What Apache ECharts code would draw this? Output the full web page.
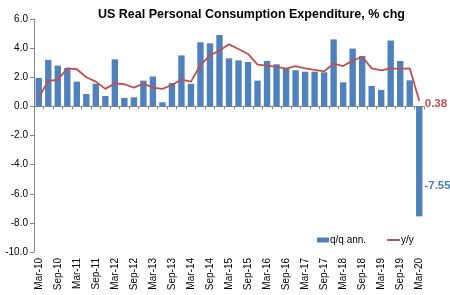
<!DOCTYPE html>
<html><head><meta charset="utf-8">
<script src="https://cdn.jsdelivr.net/npm/echarts@6/dist/echarts.min.js"></script>
<style>html,body{margin:0;padding:0;background:#fff}#c{width:450px;height:295px}</style>
</head><body><div id="c"></div>
<script>
const categories = ["Mar-10","Jun-10","Sep-10","Dec-10","Mar-11","Jun-11","Sep-11","Dec-11","Mar-12","Jun-12","Sep-12","Dec-12","Mar-13","Jun-13","Sep-13","Dec-13","Mar-14","Jun-14","Sep-14","Dec-14","Mar-15","Jun-15","Sep-15","Dec-15","Mar-16","Jun-16","Sep-16","Dec-16","Mar-17","Jun-17","Sep-17","Dec-17","Mar-18","Jun-18","Sep-18","Dec-18","Mar-19","Jun-19","Sep-19","Dec-19","Mar-20"];
const qoqAnn = [1.95,3.19,2.8,2.64,1.7,0.85,1.56,0.71,3.23,0.58,0.62,1.77,2.05,0.28,1.6,3.5,1.55,4.4,4.33,4.9,3.3,3.16,3.05,1.77,3.12,2.89,2.59,2.48,2.38,2.38,2.34,4.6,1.65,3.97,3.46,1.4,1.13,4.52,3.12,1.79,-7.55];
const yoy = [0.58,1.77,1.81,2.61,2.55,2.0,1.7,1.2,1.58,1.52,1.29,1.56,1.29,1.2,1.47,1.84,1.7,2.84,3.51,3.83,4.26,3.94,3.6,2.87,2.8,2.71,2.59,2.77,2.61,2.5,2.41,2.93,2.77,3.14,3.41,2.61,2.48,2.61,2.57,2.61,0.38];
const yTicks = {min:-10, max:6, interval:2};
const seriesNames = ["q/q ann.","y/y"];
const titleText = "US Real Personal Consumption Expenditure, % chg";

const FONT = "Liberation Sans";
const BLUE = "#4f81bd", RED = "#c0504d";
const last = categories.length - 1;

const barData = qoqAnn.map((v,i)=> i===last ? {value:v, label:{show:true, position:'right', distance:2, offset:[0,24], formatter:(p)=>p.value.toFixed(2), color:'#4a7ebb', fontWeight:'bold', fontSize:11.5, fontFamily:FONT}} : v);
const lineData = yoy.map((v,i)=> i===last ? {value:v, symbol:'circle', symbolSize:1, label:{show:true, position:'right', distance:5, offset:[0,3], formatter:(p)=>p.value.toFixed(2), color:RED, fontWeight:'bold', fontSize:11.5, fontFamily:FONT}} : {value:v, symbol:'none'});

const chart = echarts.init(document.getElementById('c'), null, {renderer:'canvas'});
chart.setOption({
  animation:false,
  backgroundColor:'#fff',
  textStyle:{fontFamily:FONT},
  title:{text:titleText, left:93, top:3, textStyle:{fontFamily:FONT, fontWeight:'bold', fontSize:12.5, color:'#000'}},
  grid:{left:34, right:26, top:19, bottom:43, containLabel:false},
  legend:[
    {data:[{name:seriesNames[0]}], icon:'rect', left:312, top:230, itemWidth:12, itemHeight:5, itemGap:4, textStyle:{fontSize:10, color:'#000', fontFamily:FONT, padding:[0,0,0,-4]}},
    {data:[{name:seriesNames[1], icon:'rect'}], icon:'rect', left:382, top:230, itemWidth:13, itemHeight:2, itemStyle:{color:RED, borderWidth:0}, textStyle:{fontSize:10, color:'#000', fontFamily:FONT, padding:[0,0,0,-4]}}
  ],
  xAxis:[
    {type:'category', data:categories, boundaryGap:true,
     axisLine:{onZero:true, lineStyle:{color:'#868686', width:1}},
     axisTick:{show:true, interval:0, length:3, inside:false, lineStyle:{color:'#868686'}},
     axisLabel:{show:false}, splitLine:{show:false}},
    {type:'category', data:categories, boundaryGap:true, position:'bottom', gridIndex:0,
     axisLine:{show:false}, axisTick:{show:false},
     axisLabel:{show:true, interval:1, rotate:90, margin:6, fontSize:10, color:'#000', fontFamily:FONT}}
  ],
  yAxis:{type:'value', min:yTicks.min, max:yTicks.max, interval:yTicks.interval,
    axisLine:{show:true, lineStyle:{color:'#868686'}},
    axisTick:{show:true, length:4, lineStyle:{color:'#868686'}},
    axisLabel:{margin:6, fontSize:10, color:'#000', fontFamily:FONT, formatter:(v)=>v.toFixed(1)},
    splitLine:{show:false}},
  series:[
    {name:seriesNames[0], type:'bar', xAxisIndex:0, data:barData, barCategoryGap:'33%', itemStyle:{color:BLUE}},
    {name:seriesNames[1], type:'line', xAxisIndex:0, data:lineData, symbol:'none', legendIcon:'rect', itemStyle:{color:RED}, color:RED, lineStyle:{color:RED, width:1.8}, z:5}
  ]
});
</script></body></html>
